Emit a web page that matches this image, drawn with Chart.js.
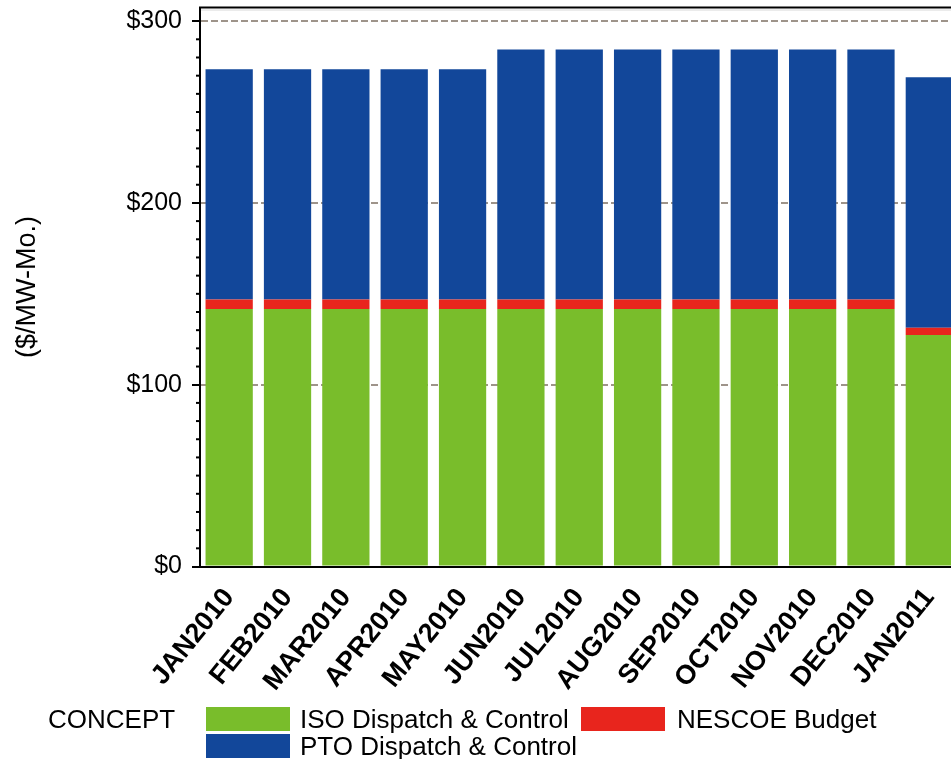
<!DOCTYPE html>
<html><head><meta charset="utf-8">
<script src="https://cdn.jsdelivr.net/npm/chart.js@4/dist/chart.umd.min.js"></script>
<style>
html,body{margin:0;padding:0;background:#fff;overflow:hidden;width:951px;height:759px;}
#wrap{position:relative;width:960px;height:759px;}
#legend{position:absolute;left:0;top:0;width:951px;height:759px;pointer-events:none;font-family:"Liberation Sans",Arial,sans-serif;font-size:26px;color:#000;}
.lt{position:absolute;line-height:26px;white-space:nowrap;}
.sw{position:absolute;width:84px;height:24px;}
</style></head>
<body>
<div id="wrap"><canvas id="c" width="960" height="759"></canvas>
<div id="legend">
  <div class="lt" style="left:48px;top:706px;">CONCEPT</div>
  <div class="sw" style="left:206px;top:707px;background:#79bd2b"></div>
  <div class="lt" style="left:300px;top:706px;">ISO Dispatch &amp; Control</div>
  <div class="sw" style="left:581px;top:707px;background:#e8251d"></div>
  <div class="lt" style="left:677px;top:706px;">NESCOE Budget</div>
  <div class="sw" style="left:206px;top:734px;background:#12479a"></div>
  <div class="lt" style="left:300px;top:733px;">PTO Dispatch &amp; Control</div>
</div></div>
<script>
const categories = ["JAN2010","FEB2010","MAR2010","APR2010","MAY2010","JUN2010","JUL2010","AUG2010","SEP2010","OCT2010","NOV2010","DEC2010","JAN2011"];
const isoDispatch = [141.6,141.6,141.6,141.6,141.6,141.6,141.6,141.6,141.6,141.6,141.6,141.6,127.3];
const nescoeBudget = [5.3,5.3,5.3,5.3,5.3,5.3,5.3,5.3,5.3,5.3,5.3,5.3,4.0];
const ptoDispatch = [126.6,126.6,126.6,126.6,126.6,137.5,137.5,137.5,137.5,137.5,137.5,137.5,137.8];
const yTickValues = [0,100,200,300];

const FONT = "'Liberation Sans', Arial, sans-serif";

const framePlugin = {
  id: 'frame',
  afterDraw(chart) {
    const ctx = chart.ctx, a = chart.chartArea, y = chart.scales.y;
    ctx.save();
    ctx.strokeStyle = '#000'; ctx.lineWidth = 2;
    ctx.beginPath(); ctx.moveTo(a.left - 1, a.top); ctx.lineTo(a.right + 5, a.top); ctx.stroke();
    ctx.strokeStyle = '#d8d8d8'; ctx.lineWidth = 1;
    ctx.beginPath(); ctx.moveTo(a.left + 1, a.top + 2.5); ctx.lineTo(a.right + 5, a.top + 2.5); ctx.stroke();
    ctx.strokeStyle = '#000'; ctx.lineWidth = 2;
    for (let v = 10; v < y.max; v += 10) {
      if (v % 100 === 0) continue;
      const py = y.getPixelForValue(v);
      ctx.beginPath(); ctx.moveTo(a.left - 4, py); ctx.lineTo(a.left, py); ctx.stroke();
    }
    ctx.restore();
  }
};

new Chart(document.getElementById('c'), {
  type: 'bar',
  data: {
    labels: categories,
    datasets: [
      {label: 'ISO Dispatch & Control', data: isoDispatch, backgroundColor: '#79bd2b'},
      {label: 'NESCOE Budget', data: nescoeBudget, backgroundColor: '#e8251d'},
      {label: 'PTO Dispatch & Control', data: ptoDispatch, backgroundColor: '#12479a'}
    ]
  },
  options: {
    responsive: false,
    animation: false,
    events: [],
    layout: {padding: {top: 7.5, right: 1.5, left: 0, bottom: 0}},
    datasets: {bar: {categoryPercentage: 1, barPercentage: 0.81, borderWidth: 0}},
    plugins: {legend: {display: false}, tooltip: {enabled: false}, title: {display: false}},
    scales: {
      x: {
        stacked: true,
        grid: {display: true, drawOnChartArea: false, drawTicks: false, color: 'rgba(0,0,0,0)'},
        border: {display: true, color: '#000', width: 2},
        ticks: {color: '#000', font: {family: FONT, size: 27, weight: 'bold'}, minRotation: 51, maxRotation: 51, padding: 16, autoSkip: false},
        afterFit(s) { s.height = 192.5; s.paddingLeft = 0; s.paddingRight = 0; }
      },
      y: {
        stacked: true,
        min: 0, max: 307.5,
        afterBuildTicks(s) {
          const t = [];
          for (let v = 0; v <= 300; v += 10) t.push({value: v});
          s.ticks = t;
        },
        ticks: {
          color: '#000', font: {family: FONT, size: 25}, padding: 10,
          callback(v) { return yTickValues.includes(v) ? '$' + v : ''; }
        },
        grid: {
          color(c) { return (c.tick && c.tick.value % 100 === 0 && c.tick.value > 0) ? '#9e948a' : 'rgba(0,0,0,0)'; },
          lineWidth: 2,
          tickColor(c) { return (c.tick && c.tick.value % 100 === 0) ? '#000' : 'rgba(0,0,0,0)'; },
          tickLength: 8,
          tickWidth: 2
        },
        border: {display: true, color: '#000', width: 2, dash: [7, 3]},
        title: {display: true, text: '($/MW-Mo.)', color: '#000', font: {family: FONT, size: 27}, padding: {top: 11, bottom: 0}},
        afterFit(s) { s.width = 200; s.paddingTop = 0; s.paddingBottom = 0; }
      }
    }
  },
  plugins: [framePlugin]
});
</script>
</body></html>
